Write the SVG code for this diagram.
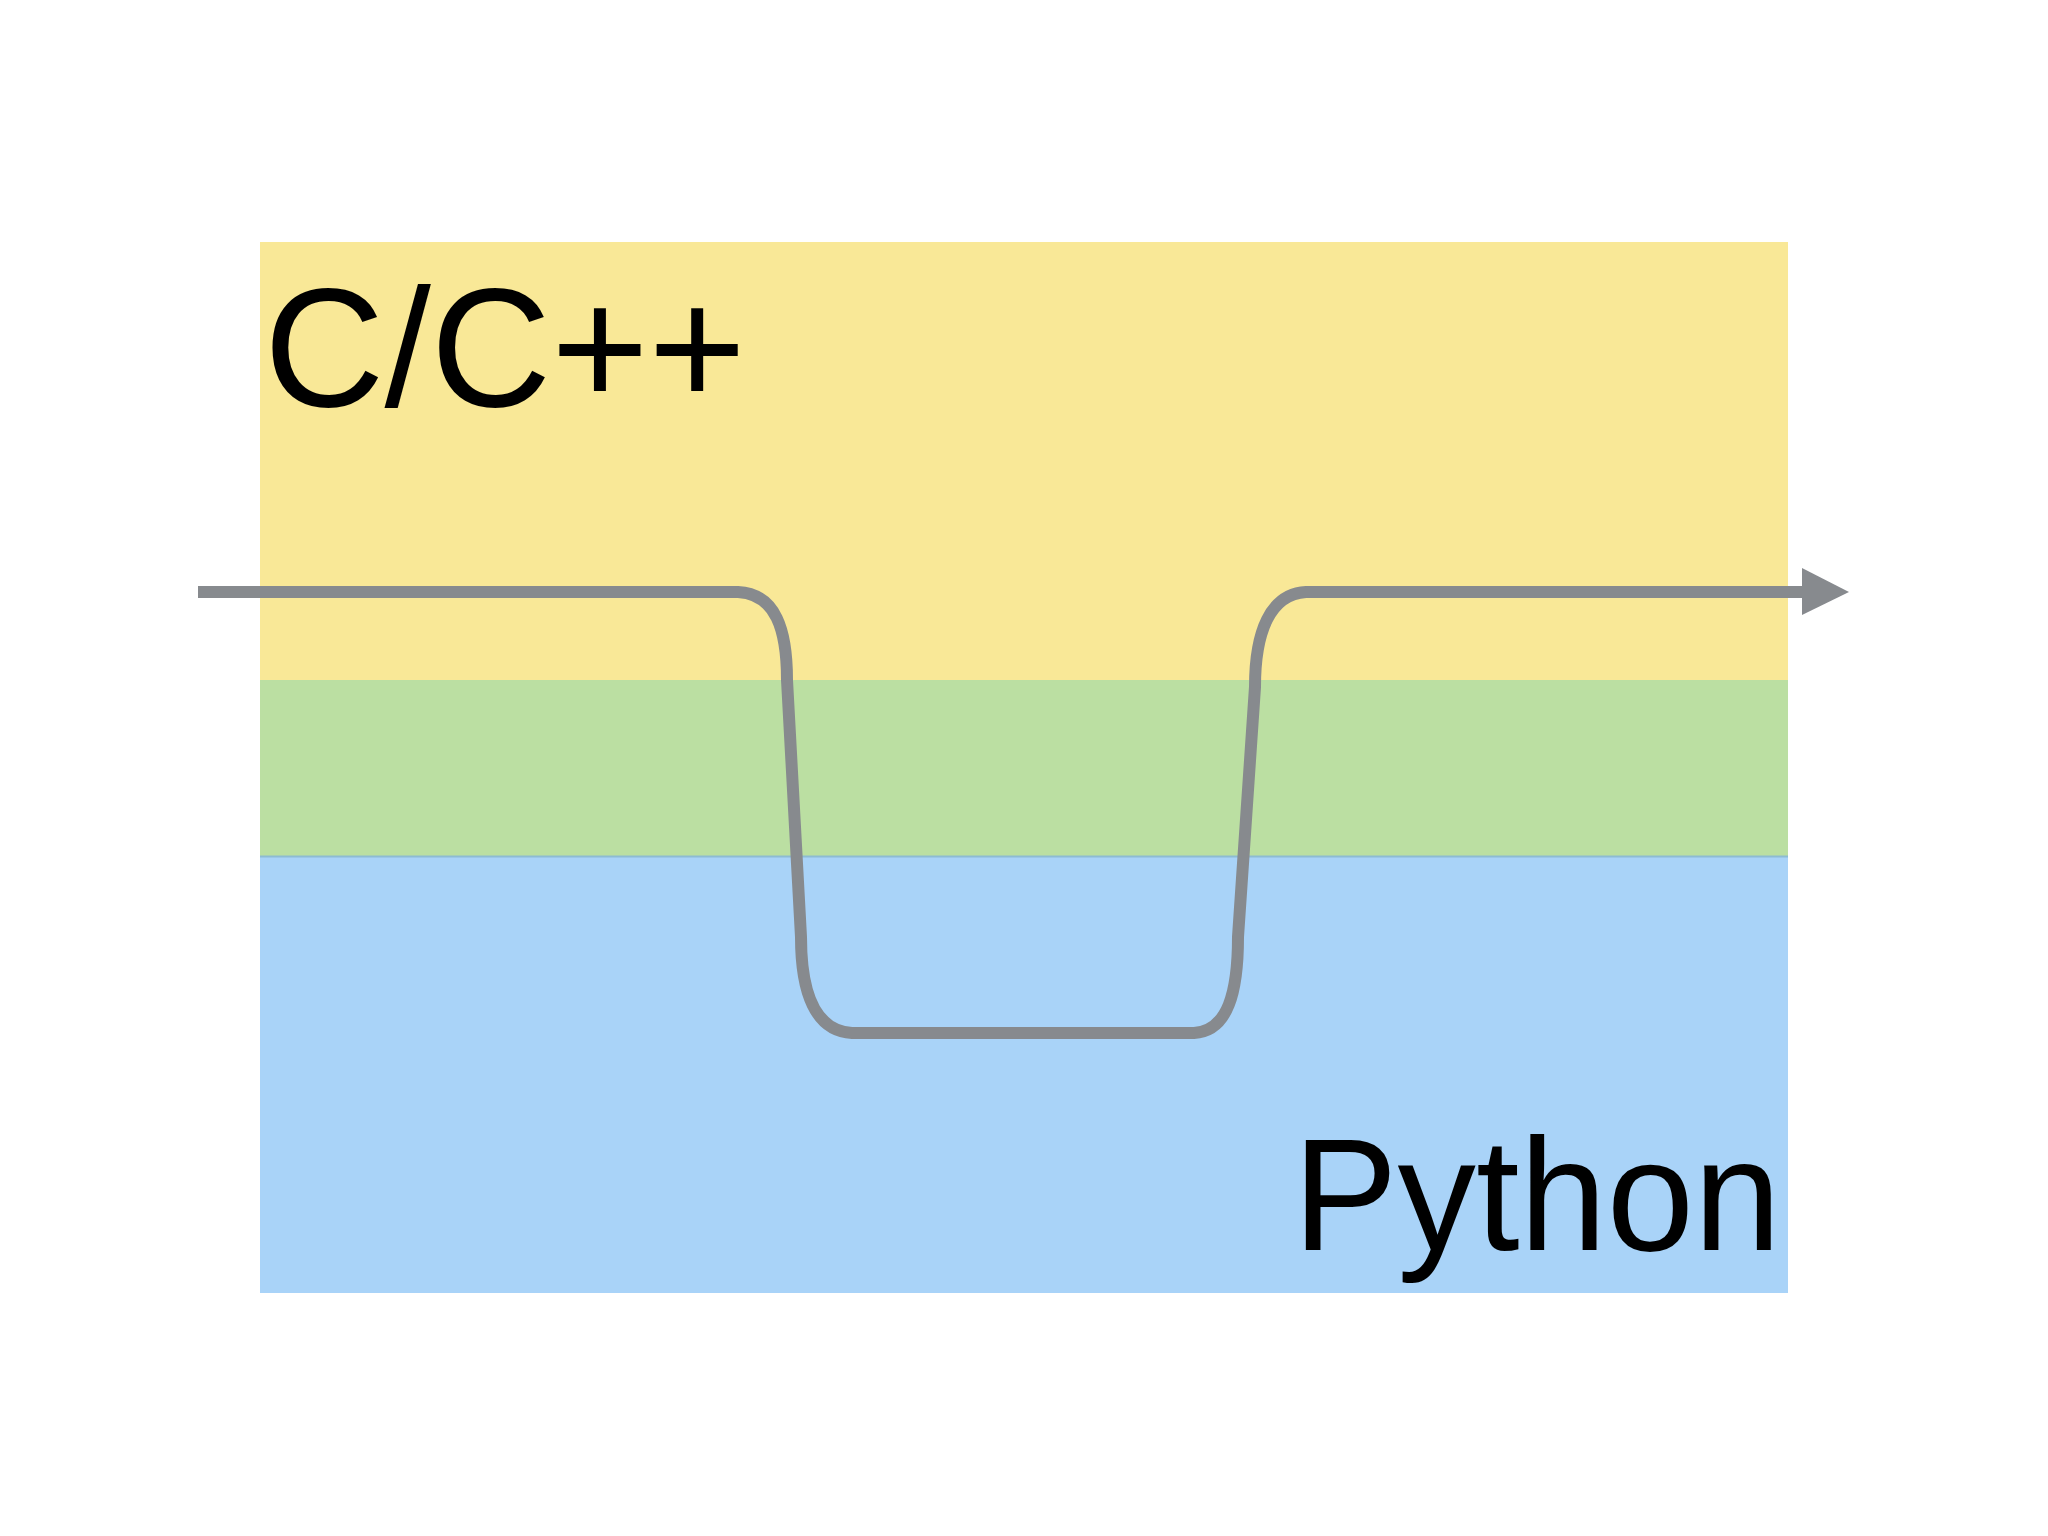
<svg xmlns="http://www.w3.org/2000/svg" width="2048" height="1536" viewBox="0 0 2048 1536">
<style>
.lbl{font-family:"Liberation Sans",Arial,sans-serif;fill:#000;}
.flow{fill:none;stroke:#878a8e;stroke-width:12;stroke-linejoin:round;}
</style>
<rect x="0" y="0" width="2048" height="1536" fill="#ffffff"/>
<g id="cpp-layer">
<rect x="260" y="242" width="1528" height="438" fill="#f9e897"/>
<text class="lbl" x="264" y="406" font-size="168" textLength="482" lengthAdjust="spacingAndGlyphs">C/C++</text>
</g>
<g id="binding-layer">
<rect x="260" y="680" width="1528" height="176" fill="#bbdfa2"/>
</g>
<g id="python-layer">
<rect x="260" y="856" width="1528" height="437" fill="#a9d3f8"/>
<line x1="260" y1="856.5" x2="1788" y2="856.5" stroke="#8dbcd2" stroke-width="2"/>
<text class="lbl" x="1293" y="1250" font-size="160" textLength="488" lengthAdjust="spacingAndGlyphs">Python</text>
</g>
<g id="connectors">
<path class="flow" d="M198,592 L738,592 C776,594 787,630 787,680 L801,937 C801,992 815,1031 852,1033 L1194,1033 C1228,1031 1238,992 1238,937 L1255,687 C1255,632 1270,594 1306,592 L1806,592"/>
<polygon points="1802,568 1849,592 1802,615" fill="#878a8e"/>
</g>
</svg>
